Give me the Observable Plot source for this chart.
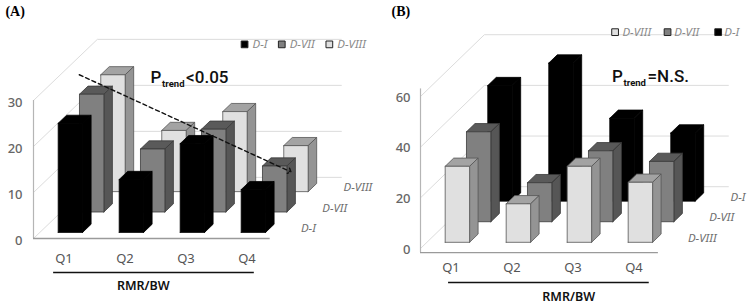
<!DOCTYPE html>
<html>
<head>
<meta charset="utf-8">
<script src="https://cdn.jsdelivr.net/npm/d3@7"></script>
<script src="https://cdn.jsdelivr.net/npm/@observablehq/plot@0.6"></script>
<style>
html,body{margin:0;padding:0;background:#fff}
#wrap{display:flex;width:752px;height:307px;overflow:hidden}
svg{display:block;overflow:visible;flex:none}
</style>
</head>
<body>
<div id="wrap"></div>
<script>
const quarters = ["Q1", "Q2", "Q3", "Q4"];

// Panel A values
const panelA_DI    = [23.7, 11.5, 19.3, 9.3];
const panelA_DVII  = [25.6, 13.7, 18.0, 10.0];
const panelA_DVIII = [25.4, 13.3, 17.4, 10.0];

// Panel B values
const panelB_DVIII = [30.0, 15.2, 30.0, 23.7];
const panelB_DVII  = [35.5, 15.4, 28.0, 23.8];
const panelB_DI    = [45.6, 54.5, 32.7, 26.9];

const ticksA = [0, 10, 20, 30];
const ticksB = [0, 20, 40, 60];

const styles = {
  "D-I":    {front: "#000", side: "#000", top: "#000", stroke: "#000"},
  "D-VII":  {front: "#808080", side: "#565656", top: "#5a5a5a", stroke: "#3a3a3a"},
  "D-VIII": {front: "#e0e0e0", side: "#949494", top: "#a3a3a3", stroke: "#555"}
};

const GREY = "#666";
const FONT = "'Noto Sans', sans-serif";
const HEAD = "Roboto, sans-serif";

function panel(cfg) {
  const {series, ymax, ticks, dv, mt, mb, ml, mr} = cfg;
  const du = 0.349;                              // oblique shift in x per depth slot
  const ptX = (u, d) => u + d * du;
  const ptY = (v, d) => v + d * dv;
  const project = (pts) => pts.map(([u, v, d]) => ({x: ptX(u, d), y: ptY(v, d)}));

  // Bars become polygons: back series first so nearer bars paint over them.
  const polys = [];
  for (let s = series.length - 1; s >= 0; s--) {
    const {name, values} = series[s];
    const st = styles[name];
    values.forEach((val, i) => {
      const u0 = i + 0.3, u1 = i + 0.7, d0 = s + 0.3, d1 = s + 0.7;
      const add = (face, pts, fill) => {
        const id = `${name}-${i}-${face}`;
        const c = [...pts, pts[0]];
        project(c).forEach(p => polys.push({...p, id, fill, stroke: st.stroke}));
      };
      add("top", [[u0, val, d0], [u1, val, d0], [u1, val, d1], [u0, val, d1]], st.top);
      add("side", [[u1, 0, d0], [u1, val, d0], [u1, val, d1], [u1, 0, d1]], st.side);
      add("front", [[u0, 0, d0], [u1, 0, d0], [u1, val, d0], [u0, val, d0]], st.front);
    });
  }

  // Walls
  const grid = [];
  ticks.forEach(t => {
    project([[0, t, 0], [0, t, 3], [4, t, 3]]).forEach(p => grid.push({...p, t}));
  });

  // Depth labels at the right of the floor
  const depthLabels = series.map((s, i) => ({
    name: s.name, x: ptX(4.21, i + 0.5), y: ptY(0, i + 0.5)
  }));

  return Plot.plot({
    width: 376, height: 307,
    marginTop: mt, marginBottom: mb, marginLeft: ml, marginRight: mr,
    x: {domain: [0, 4]},
    y: {domain: [0, ymax]},
    style: {background: "#fff", fontFamily: FONT},
    marks: [
      Plot.line(grid, {x: "x", y: "y", z: "t", stroke: "#dcdcdc", strokeWidth: 1}),
      Plot.ruleX([0], {y1: cfg.axisLow, y2: cfg.axisHigh, stroke: "#b5b5b5", strokeWidth: 1.2}),
      Plot.ruleY([cfg.axisLow], {x1: 0, x2: cfg.floorEnd, stroke: "#9a9a9a", strokeWidth: 1.3}),
      Plot.line(polys, {x: "x", y: "y", z: "id", fill: "fill", stroke: "stroke", strokeWidth: 0.8, strokeLinejoin: "miter"}),
      Plot.axisY({ticks, tickSize: 0, tickPadding: cfg.tickPad, fontSize: 13, fontWeight: 500, color: GREY, fill: GREY, label: null, dy: cfg.tickDy}),
      Plot.axisX({
        ticks: [0.5, 1.5, 2.5, 3.5], tickFormat: d => quarters[Math.floor(d)],
        tickSize: 0, tickPadding: cfg.catPad, fontSize: 13, fill: "#555", label: null
      }),
      Plot.ruleY([cfg.rule.y], {x1: cfg.rule.x1, x2: cfg.rule.x2, stroke: "#111", strokeWidth: 1.4}),
      Plot.text(["RMR/BW"], {x: cfg.title.x, y: cfg.title.y, fontSize: 12.5, fontWeight: 600, fill: "#111"}),
      Plot.text(depthLabels, {x: "x", y: "y", text: "name", textAnchor: "start", fontSize: 11.5, fontStyle: "italic", fill: "#6e6e6e"}),
      Plot.dot(cfg.legend, {x: "sx", y: () => cfg.legendY, symbol: "square", r: 3.8, fill: d => styles[d.name].front, stroke: "#222", strokeWidth: 1}),
      Plot.text(cfg.legend, {x: "tx", y: () => cfg.legendY, text: "name", textAnchor: "start", fontSize: 11.5, fontStyle: "italic", fill: "#8a8a8a"}),
      ...(cfg.trend ? [Plot.line(cfg.trend, {x: "x", y: "y", stroke: "#111", strokeWidth: 1.4, strokeDasharray: "4 3", markerEnd: "arrow"})] : []),
      Plot.text(["P"], {x: cfg.p.x, y: cfg.p.y, lineAnchor: "bottom", textAnchor: "start", fontSize: 17, fontWeight: 500, fontFamily: HEAD, fill: "#111"}),
      Plot.text(["trend"], {x: cfg.p.x, y: cfg.p.y, lineAnchor: "bottom", textAnchor: "start", dx: 11.5, dy: 4, fontSize: 9.5, fontWeight: 700, fontFamily: HEAD, fill: "#111"}),
      Plot.text([cfg.p.text], {x: cfg.p.x, y: cfg.p.y, lineAnchor: "bottom", textAnchor: "start", dx: 35.5, fontSize: 17, fontWeight: 500, fontFamily: HEAD, fill: "#111"}),
      Plot.text([cfg.tag.text], {x: cfg.tag.x, y: cfg.tag.y, textAnchor: "start", fontSize: 14, fontWeight: 700, fontFamily: "'Liberation Serif', serif", fill: "#000"})
    ]
  });
}

const A = panel({
  series: [
    {name: "D-I", values: panelA_DI},
    {name: "D-VII", values: panelA_DVII},
    {name: "D-VIII", values: panelA_DVIII}
  ],
  ymax: 30, ticks: ticksA, dv: 4.43,
  mt: 100, mb: 69, ml: 33, mr: 99,
  axisLow: 0, axisHigh: 30, floorEnd: 3.88, tickPad: 11, tickDy: 2, catPad: 15,
  rule: {y: -7.4, x1: 0.33, x2: 3.62},
  title: {x: 1.80, y: -10.4},
  legendY: 42.2,
  legend: [
    {name: "D-I", sx: 3.46, tx: 3.59},
    {name: "D-VII", sx: 4.07, tx: 4.20},
    {name: "D-VIII", sx: 4.85, tx: 4.98}
  ],
  trend: [{x: 0.75, y: 35.6}, {x: 4.2, y: 14.6}],
  p: {x: 1.92, y: 33.9, text: "<0.05"},
  tag: {text: "(A)", x: -0.46, y: 49.3}
});

const B = panel({
  series: [
    {name: "D-VIII", values: panelB_DVIII},
    {name: "D-VII", values: panelB_DVII},
    {name: "D-I", values: panelB_DI}
  ],
  ymax: 60, ticks: ticksB, dv: 8.13,
  mt: 96, mb: 59, ml: 44, mr: 88,
  axisLow: -1.6, axisHigh: 63, floorEnd: 3.9, tickPad: 10, tickDy: 1, catPad: 14,
  rule: {y: -13.4, x1: 0.46, x2: 3.75},
  title: {x: 2.43, y: -19},
  legendY: 85.4,
  legend: [
    {name: "D-VIII", sx: 3.19, tx: 3.31},
    {name: "D-VII", sx: 4.05, tx: 4.16},
    {name: "D-I", sx: 4.88, tx: 4.98}
  ],
  p: {x: 3.14, y: 65.6, text: "=N.S."},
  tag: {text: "(B)", x: -0.475, y: 93.7}
});

const wrap = document.getElementById("wrap");
wrap.append(A, B);
</script>
</body>
</html>
